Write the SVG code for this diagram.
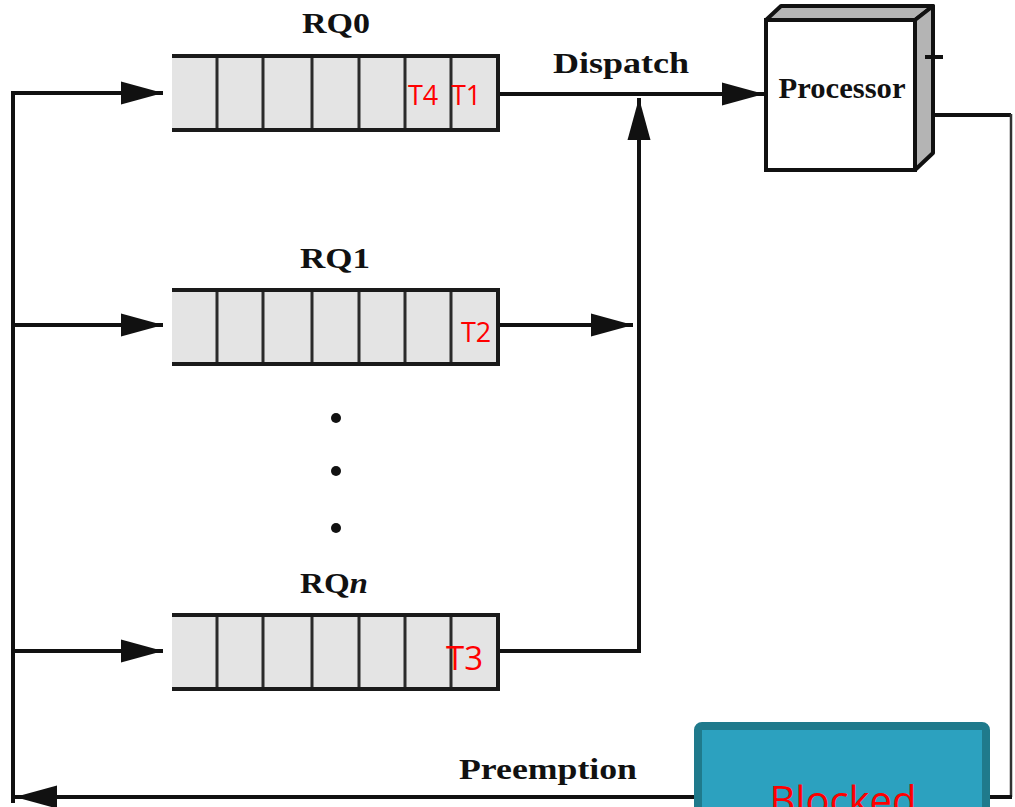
<svg xmlns="http://www.w3.org/2000/svg" xmlns:xlink="http://www.w3.org/1999/xlink" width="1015" height="807" viewBox="0 0 1015 807">
  <style>
    .lbl { font-family: "Liberation Serif", "Times New Roman", serif; font-weight: bold; font-size: 30px; fill: #111; text-anchor: middle; }
    .task { font-family: "Open Sans", "Noto Sans", sans-serif; font-size: 27px; fill: #ff0000; }
    .task-big { font-size: 33px; }
    .wire { fill: none; stroke: #111; stroke-width: 4; }
    .qline { stroke: #1a1a1a; stroke-width: 4; fill: none; }
    .qdiv { stroke: #2a2a2a; stroke-width: 3; }
  </style>
  <defs>
    <marker id="arrow" markerUnits="userSpaceOnUse" markerWidth="44" markerHeight="24" refX="42" refY="12" orient="auto">
      <path d="M0,0.5 L42,12 L0,23.5 Z" fill="#111"/>
    </marker>
    <!-- seven-slot queue, open on the left -->
    <g id="queue">
      <rect x="172" y="0" width="326" height="74" fill="#e4e4e4"/>
      <line class="qdiv" x1="217" y1="0" x2="217" y2="74"/>
      <line class="qdiv" x1="263" y1="0" x2="263" y2="74"/>
      <line class="qdiv" x1="312" y1="0" x2="312" y2="74"/>
      <line class="qdiv" x1="359" y1="0" x2="359" y2="74"/>
      <line class="qdiv" x1="405" y1="0" x2="405" y2="74"/>
      <line class="qdiv" x1="451" y1="0" x2="451" y2="74"/>
      <path class="qline" d="M172,0 H498 V74 H172"/>
    </g>
  </defs>

  <rect width="1015" height="807" fill="#ffffff"/>

  <!-- connectors -->
  <g id="connectors">
    <!-- feedback loop on the left -->
    <polyline class="wire" points="13,93 13,803"/>
    <line class="wire" x1="11" y1="93" x2="163" y2="93" marker-end="url(#arrow)"/>
    <line class="wire" x1="13" y1="325" x2="163" y2="325" marker-end="url(#arrow)"/>
    <line class="wire" x1="13" y1="651" x2="163" y2="651" marker-end="url(#arrow)"/>
    <!-- dispatch -->
    <line class="wire" x1="498" y1="94" x2="764" y2="94" marker-end="url(#arrow)"/>
    <polyline class="wire" points="498,651 639,651 639,98" marker-end="url(#arrow)"/>
    <line class="wire" x1="498" y1="325" x2="633" y2="325" marker-end="url(#arrow)"/>
    <!-- preemption path -->
    <line class="wire" x1="925" y1="115" x2="1011" y2="115"/>
    <line x1="1011" y1="114" x2="1011" y2="797" stroke="#333" stroke-width="2.5"/>
    <line class="wire" x1="1012" y1="797" x2="15" y2="797" marker-end="url(#arrow)"/>
    <text class="lbl" x="621" y="73" textLength="136" lengthAdjust="spacingAndGlyphs">Dispatch</text>
    <text class="lbl" x="548" y="779" textLength="178" lengthAdjust="spacingAndGlyphs">Preemption</text>
  </g>

  <g id="rq0">
    <use xlink:href="#queue" transform="translate(0,56)"/>
    <text class="lbl" x="336" y="33" textLength="68" lengthAdjust="spacingAndGlyphs">RQ0</text>
    <text class="task" x="408" y="105">T4</text>
    <text class="task" x="451" y="105">T1</text>
  </g>

  <g id="rq1">
    <use xlink:href="#queue" transform="translate(0,290)"/>
    <text class="lbl" x="335" y="268" textLength="70" lengthAdjust="spacingAndGlyphs">RQ1</text>
    <text class="task" x="461" y="342">T2</text>
  </g>

  <g id="more-queues">
    <circle cx="336" cy="418" r="5" fill="#111"/>
    <circle cx="336" cy="471" r="5" fill="#111"/>
    <circle cx="336" cy="528" r="5" fill="#111"/>
  </g>

  <g id="rqn">
    <use xlink:href="#queue" transform="translate(0,615)"/>
    <text class="lbl" x="334" y="593" textLength="68" lengthAdjust="spacingAndGlyphs">RQ<tspan font-style="italic">n</tspan></text>
    <text class="task task-big" x="446" y="670">T3</text>
  </g>

  <g id="processor">
    <polygon points="766,20 781,6 933,6 915,20" fill="#b4b4b4" stroke="#111" stroke-width="4" stroke-linejoin="round"/>
    <polygon points="915,20 933,6 933,153 915,170" fill="#b4b4b4" stroke="#111" stroke-width="4" stroke-linejoin="round"/>
    <rect x="766" y="20" width="149" height="150" fill="#ffffff" stroke="#111" stroke-width="4"/>
    <line x1="925" y1="57" x2="943" y2="57" stroke="#111" stroke-width="4"/>
    <text class="lbl" x="842" y="98" textLength="127" lengthAdjust="spacingAndGlyphs">Processor</text>
  </g>

  <g id="blocked">
    <rect x="698" y="726" width="288" height="100" rx="4" fill="#2ca1bf" stroke="#1f7a8c" stroke-width="8"/>
    <text x="843" y="815" font-family="'Open Sans', 'Noto Sans', sans-serif" font-size="40" fill="#ff0000" text-anchor="middle">Blocked</text>
  </g>
</svg>
